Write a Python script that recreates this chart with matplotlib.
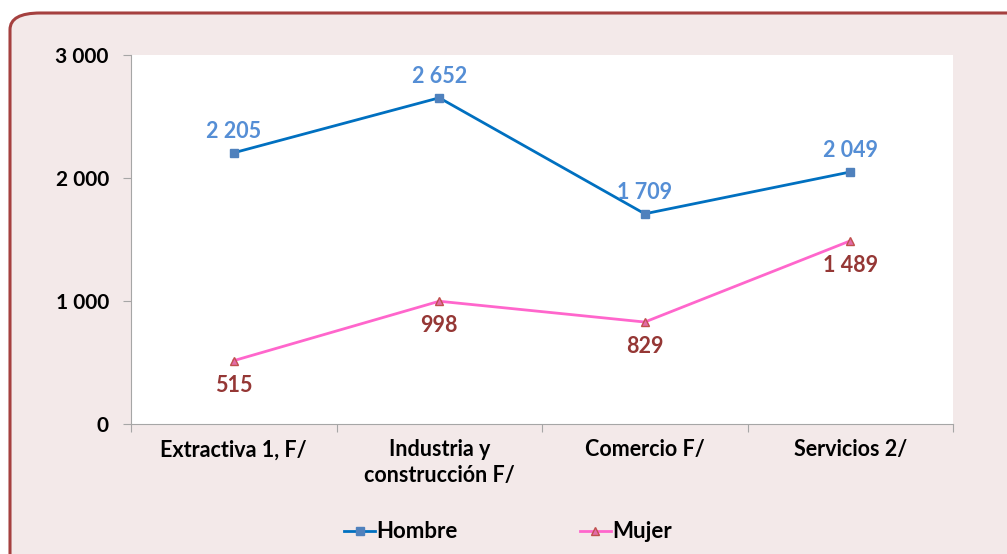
import matplotlib.pyplot as plt
from matplotlib.patches import FancyBboxPatch

plt.rcParams['font.family'] = ['Lato', 'DejaVu Sans']
plt.rcParams['font.weight'] = 'bold'

# data
categorias = ["Extractiva 1, F/", "Industria y\nconstrucción F/", "Comercio F/", "Servicios 2/"]
hombre = [2205, 2652, 1709, 2049]
mujer = [515, 998, 829, 1489]
yticks = [0, 1000, 2000, 3000]


def fmt(v):
    return f"{v:,}".replace(",", " ")


fig = plt.figure(figsize=(10.07, 5.54), dpi=100)
fig.patch.set_facecolor("white")

# rounded frame
frame = FancyBboxPatch((10 / 1007, -0.1), 1.2, 1 - 13 / 554 + 0.1,
                       boxstyle="round,pad=0,rounding_size=0.03",
                       transform=fig.transFigure, facecolor="#F3E9E9",
                       edgecolor="#A5403F", linewidth=2.2, zorder=-5)
fig.patches.append(frame)

ax = fig.add_axes([131 / 1007, 1 - 424 / 554, 822 / 1007, 369 / 554])
ax.set_facecolor("white")

x = list(range(len(categorias)))
ax.plot(x, hombre, color="#0070C0", linewidth=2, marker="s", markersize=6,
        markerfacecolor="#4F81BD", markeredgecolor="#4F81BD", label="Hombre")
ax.plot(x, mujer, color="#FF66CC", linewidth=2, marker="^", markersize=6,
        markerfacecolor="#E26BA8", markeredgecolor="#C0504D", label="Mujer")

for xi, v in zip(x, hombre):
    ax.annotate(fmt(v), (xi, v), xytext=(0, 8), textcoords="offset points",
                ha="center", va="bottom", color="#558ED5", fontsize=15.5, fontweight="bold")
for xi, v in zip(x, mujer):
    ax.annotate(fmt(v), (xi, v), xytext=(0, -10), textcoords="offset points",
                ha="center", va="top", color="#953735", fontsize=15.5, fontweight="bold")

ax.set_xlim(-0.5, 3.5)
ax.set_ylim(0, 3000)
ax.set_yticks(yticks)
ax.set_yticklabels([fmt(v) for v in yticks], fontsize=15, fontweight="bold")
ax.set_xticks([i - 0.5 for i in range(len(categorias) + 1)])
ax.set_xticklabels([])
ax.set_xticks(x, minor=True)
ax.set_xticklabels(categorias, minor=True, fontsize=15.5, fontweight="bold", linespacing=1.25)
ax.tick_params(axis="x", which="minor", length=0, pad=11)
ax.tick_params(axis="x", which="major", length=6, color="#A6A6A6")
ax.tick_params(axis="y", length=6, color="#A6A6A6", pad=10)

for s in ["top", "right"]:
    ax.spines[s].set_visible(False)
for s in ["left", "bottom"]:
    ax.spines[s].set_color("#A6A6A6")

fig.legend(loc="center", bbox_to_anchor=(508 / 1007, 1 - 532 / 554), ncol=2, frameon=False,
           handlelength=1.4, handletextpad=0.05, columnspacing=5.5, markerscale=0.85,
           prop={"weight": "bold", "size": 16})

fig.savefig("out.png", dpi=100)
